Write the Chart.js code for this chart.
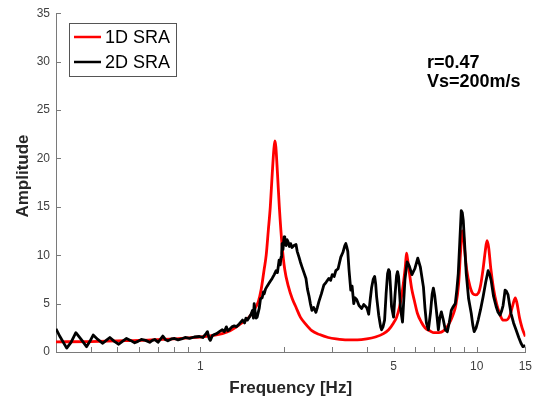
<!DOCTYPE html>
<html><head><meta charset="utf-8">
<script src="https://cdn.jsdelivr.net/npm/chart.js@4/dist/chart.umd.min.js"></script>
<style>html,body{margin:0;padding:0;background:#fff}#wrap{width:539px;height:403px}</style>
</head><body><div id="wrap"><canvas id="c" width="539" height="403"></canvas></div>
<script>
// ---- data ----
const seriesNames = ['1D SRA', '2D SRA'];
const freq1D = [0.300,0.4,0.5,0.6,0.7,0.8,0.9,1.0,1.1,1.2,1.28,1.38,1.50,1.55,1.62,1.66,1.70,1.73,1.76,1.79,1.82,1.845,1.86,1.875,1.90,1.93,1.975,2.02,2.08,2.15,2.22,2.30,2.40,2.53,2.7,2.9,3.1,3.4,3.7,4.0,4.3,4.6,4.8,5.0,5.13,5.25,5.35,5.45,5.52,5.57,5.62,5.70,5.82,5.95,6.1,6.3,6.5,6.8,7.0,7.3,7.6,7.9,8.2,8.4,8.6,8.75,8.87,8.95,9.05,9.2,9.45,9.7,9.9,10.15,10.35,10.55,10.75,10.9,11.05,11.25,11.5,11.8,12.1,12.45,12.8,13.2,13.5,13.8,14.0,14.3,14.6,15.0];
const amp1D  = [1.05,1.08,1.15,1.2,1.28,1.35,1.45,1.55,1.7,1.9,2.2,2.8,3.6,4.2,5.2,6.5,8.5,10.0,12.5,15.0,18.5,21.0,21.8,21.2,18.5,15.0,11.0,8.5,6.8,5.5,4.6,3.6,2.9,2.2,1.8,1.5,1.35,1.25,1.25,1.35,1.55,1.9,2.3,3.0,3.6,4.6,5.8,7.5,8.9,10.2,9.6,8.3,6.5,5.3,4.0,3.1,2.5,2.15,2.0,2.0,2.2,2.8,3.8,4.8,7.0,10.5,12.5,12.2,10.5,8.5,6.8,6.0,5.9,6.1,7.0,8.6,10.5,11.5,10.8,8.6,6.6,5.0,4.0,3.3,3.3,3.8,4.8,5.6,5.0,3.5,2.5,1.6];
const freq2D = [0.300,0.310,0.328,0.340,0.354,0.370,0.387,0.398,0.409,0.425,0.443,0.456,0.470,0.488,0.506,0.522,0.540,0.558,0.578,0.594,0.611,0.633,0.655,0.670,0.683,0.702,0.716,0.731,0.746,0.762,0.785,0.806,0.830,0.854,0.880,0.913,0.950,0.992,1.020,1.048,1.060,1.075,1.086,1.105,1.123,1.145,1.171,1.200,1.220,1.241,1.256,1.272,1.300,1.326,1.350,1.382,1.420,1.445,1.461,1.480,1.502,1.525,1.543,1.555,1.565,1.580,1.591,1.604,1.632,1.650,1.673,1.690,1.701,1.720,1.744,1.780,1.818,1.850,1.879,1.900,1.927,1.945,1.958,1.968,1.975,1.990,2.008,2.020,2.042,2.058,2.075,2.100,2.120,2.145,2.180,2.218,2.240,2.274,2.300,2.331,2.370,2.410,2.440,2.471,2.500,2.533,2.570,2.618,2.650,2.684,2.740,2.797,2.850,2.917,2.960,3.000,3.050,3.091,3.150,3.222,3.280,3.331,3.359,3.390,3.415,3.450,3.501,3.540,3.589,3.630,3.680,3.750,3.835,3.900,3.997,4.030,4.064,4.120,4.167,4.220,4.272,4.310,4.343,4.420,4.490,4.527,4.580,4.641,4.700,4.758,4.800,4.838,4.880,4.918,5.002,5.060,5.128,5.170,5.214,5.300,5.389,5.50,5.60,5.70,5.83,5.97,6.12,6.25,6.416,6.500,6.577,6.687,6.800,6.900,6.970,7.050,7.146,7.266,7.350,7.449,7.560,7.700,7.829,7.950,8.093,8.230,8.366,8.480,8.577,8.690,8.794,8.870,8.942,9.050,9.167,9.350,9.555,9.680,9.795,9.950,10.125,10.330,10.55,10.780,11.00,11.15,11.28,11.50,11.76,11.95,12.15,12.30,12.46,12.57,12.67,12.80,12.99,13.15,13.31,13.60,13.88,14.20,14.47,14.71,14.85,15.0];
const amp2D  = [2.4,1.6,0.4,1.0,2.0,1.3,0.55,1.1,1.75,1.3,0.9,1.2,1.5,1.1,0.8,1.1,1.4,1.2,0.95,1.1,1.3,1.2,1.0,1.2,1.3,1.0,1.3,1.65,1.3,1.15,1.35,1.4,1.25,1.35,1.5,1.4,1.55,1.6,1.5,1.9,2.1,1.4,1.2,1.7,1.8,1.9,2.1,2.3,2.1,2.6,2.2,2.3,2.6,2.7,2.6,2.9,3.3,3.0,3.5,3.3,3.6,3.9,4.3,3.5,5.0,4.0,3.5,3.6,4.5,5.5,5.6,6.2,6.0,6.5,6.8,7.2,7.6,8.0,8.4,8.2,9.5,9.0,9.8,10.2,11.2,10.6,11.9,11.2,11.0,11.6,11.4,10.9,11.2,10.8,11.0,11.1,10.4,9.8,9.3,8.8,8.2,7.6,6.5,5.8,5.0,4.3,4.6,4.1,4.6,5.2,6.0,6.9,7.2,7.6,7.4,8.0,7.8,8.4,8.6,9.8,10.3,11.0,11.2,10.8,10.4,8.5,6.4,6.8,5.0,5.6,5.4,4.8,4.5,4.9,4.6,4.3,3.9,5.5,6.7,7.5,7.8,7.0,5.7,3.8,2.6,2.3,2.6,3.3,6.0,8.1,8.5,8.3,6.5,4.7,3.6,5.8,7.9,8.3,7.8,4.5,3.1,7.5,9.3,8.9,8.0,8.6,9.7,8.8,6.7,4.5,3.0,2.3,4.0,6.0,6.6,5.8,4.3,2.3,3.5,4.15,3.4,2.3,2.1,3.0,4.3,4.7,5.0,6.5,8.1,11.5,14.6,14.4,13.6,11.0,8.1,5.5,4.0,2.8,2.1,2.5,3.3,4.4,5.7,7.2,8.4,8.0,7.4,5.8,4.7,4.1,3.8,4.2,4.8,5.6,6.4,6.3,5.9,4.9,4.0,3.0,2.3,1.5,0.9,0.55,0.6,0.7];
const xTickLabels = [1, 5, 10, 15];
const xTickMarks = [0.4,0.5,0.6,0.7,0.8,0.9,1,2,3,4,5,6,7,8,9,10,15];
const yTicks = [0,5,10,15,20,25,30,35];
const annotationLines = ['r=0.47', 'Vs=200m/s'];
const xTitle = 'Frequency [Hz]';
const yTitle = 'Amplitude';

// ---- styles ----
const FONT = '"Liberation Sans", Arial, sans-serif';
const axisColor = '#7a7a7a';
const tickColor = '#404040';
const colors = ['#ff0000', '#000000'];

const toXY = (f, a) => f.map((v, i) => ({x: v, y: a[i]}));

const deco = {
  id: 'deco',
  afterDraw(chart) {
    const ctx = chart.ctx, xs = chart.scales.x, ys = chart.scales.y, a = chart.chartArea;
    ctx.save();
    ctx.strokeStyle = axisColor; ctx.lineWidth = 1;
    ctx.beginPath();
    xTickMarks.forEach(v => { const px = Math.round(xs.getPixelForValue(v)) + 0.5; ctx.moveTo(px, a.bottom); ctx.lineTo(px, a.bottom - 5); });
    yTicks.forEach(v => { const py = Math.round(ys.getPixelForValue(v)) + 0.5; ctx.moveTo(a.left, py); ctx.lineTo(a.left + 5, py); });
    ctx.stroke();
    ctx.fillStyle = '#262626';
    ctx.font = 'bold 17px ' + FONT;
    ctx.textAlign = 'center'; ctx.textBaseline = 'middle';
    ctx.fillText(xTitle, (a.left + a.right) / 2, 388);
    ctx.save(); ctx.translate(23, 176); ctx.rotate(-Math.PI / 2); ctx.fillText(yTitle, 0, 0); ctx.restore();
    ctx.fillStyle = '#fff'; ctx.fillRect(69.5, 23.5, 107, 53);
    ctx.strokeStyle = '#555'; ctx.lineWidth = 1; ctx.strokeRect(69.5, 23.5, 107, 53);
    const ly = [37, 62];
    seriesNames.forEach((n, i) => {
      ctx.strokeStyle = colors[i]; ctx.lineWidth = 2.5;
      ctx.beginPath(); ctx.moveTo(74, ly[i]); ctx.lineTo(101, ly[i]); ctx.stroke();
      ctx.fillStyle = '#000'; ctx.font = '18px ' + FONT; ctx.textAlign = 'left'; ctx.textBaseline = 'middle';
      ctx.fillText(n, 105, ly[i] + 1);
    });
    ctx.fillStyle = '#000'; ctx.font = 'bold 18px ' + FONT; ctx.textAlign = 'left'; ctx.textBaseline = 'alphabetic';
    ctx.fillText(annotationLines[0], 427, 68);
    ctx.fillText(annotationLines[1], 427, 87);
    ctx.restore();
  }
};

new Chart(document.getElementById('c'), {
  type: 'line',
  data: {
    datasets: [
      {label: seriesNames[0], data: toXY(freq1D, amp1D), borderColor: colors[0], borderWidth: 2.8, pointRadius: 0, cubicInterpolationMode: 'monotone', order: 2},
      {label: seriesNames[1], data: toXY(freq2D, amp2D), borderColor: colors[1], borderWidth: 2.8, pointRadius: 0, tension: 0, order: 1, borderJoinStyle: 'round'}
    ]
  },
  options: {
    responsive: false, animation: false, devicePixelRatio: 1,
    layout: {padding: {top: 12, right: 11, left: 0, bottom: 0}},
    plugins: {legend: {display: false}, tooltip: {enabled: false}},
    scales: {
      x: {
        type: 'logarithmic', min: 0.3, max: 15,
        afterBuildTicks: s => { s.ticks = xTickMarks.map(v => ({value: v})); },
        afterFit: s => { s.height = 51; },
        grid: {display: false, drawTicks: false},
        border: {display: true, color: axisColor, width: 1},
        ticks: {autoSkip: false, maxRotation: 0, padding: 7, color: tickColor, font: {family: FONT, size: 12},
          callback: v => xTickLabels.includes(v) ? String(v) : ''}
      },
      y: {
        type: 'linear', min: 0, max: 35,
        afterBuildTicks: s => { s.ticks = yTicks.map(v => ({value: v})); },
        afterFit: s => { s.width = 56; },
        grid: {display: false, drawTicks: false},
        border: {display: true, color: axisColor, width: 1},
        ticks: {padding: 6, color: tickColor, font: {family: FONT, size: 12}}
      }
    }
  },
  plugins: [deco]
});
</script></body></html>
